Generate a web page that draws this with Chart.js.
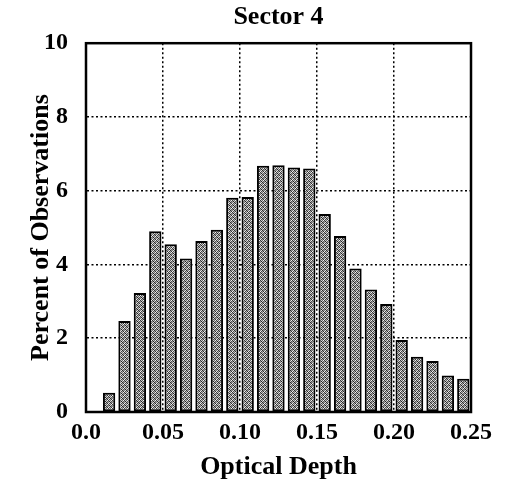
<!DOCTYPE html>
<html>
<head>
<meta charset="utf-8">
<script src="https://cdn.jsdelivr.net/npm/chart.js@4/dist/chart.umd.min.js"></script>
<style>
  html, body { margin: 0; padding: 0; background: #fff; }
  #wrap { width: 511px; height: 486px; }
</style>
</head>
<body>
<div id="wrap"><canvas id="sector-plot"></canvas></div>
<script>
// bin centres (optical depth) and percent of observations in each bin
const binCenters = [0.015, 0.025, 0.035, 0.045, 0.055, 0.065, 0.075, 0.085,
  0.095, 0.105, 0.115, 0.125, 0.135, 0.145, 0.155, 0.165, 0.175, 0.185,
  0.195, 0.205, 0.215, 0.225, 0.235, 0.245];
const percents = [0.52, 2.47, 3.23, 4.9, 4.55, 4.16, 4.64, 4.94,
  5.81, 5.83, 6.68, 6.69, 6.63, 6.6, 5.37, 4.77, 3.89, 3.32,
  2.93, 1.95, 1.5, 1.38, 0.99, 0.9];
const xTickLabels = ['0.0', '0.05', '0.10', '0.15', '0.20', '0.25'];
const yTicks = [0, 2, 4, 6, 8, 10];

const serif = '"Liberation Serif", "Times New Roman", serif';

// speckled grey fill, like the halftone of the print
function speckle() {
  const c = document.createElement('canvas');
  c.width = 4; c.height = 4;
  const g = c.getContext('2d');
  const shades = [
    '#3a3a3a', '#c8c8c8', '#6a6a6a', '#f0f0f0',
    '#a0a0a0', '#202020', '#d0d0d0', '#5a5a5a',
    '#7a7a7a', '#e0e0e0', '#2a2a2a', '#989898',
    '#f0f0f0', '#4a4a4a', '#b0b0b0', '#303030'
  ];
  shades.forEach((s, i) => {
    g.fillStyle = s;
    g.fillRect(i % 4, Math.floor(i / 4), 1, 1);
  });
  return g.createPattern(c, 'repeat');
}

// box round the plot area
const frame = {
  id: 'frame',
  afterDatasetsDraw(chart) {
    const a = chart.chartArea;
    const ctx = chart.ctx;
    ctx.save();
    ctx.strokeStyle = '#000';
    ctx.lineWidth = 2.5;
    ctx.strokeRect(a.left, a.top, a.right - a.left, a.bottom - a.top);
    ctx.restore();
  }
};

new Chart(document.getElementById('sector-plot'), {
  type: 'bar',
  data: {
    datasets: [{
      label: 'Sector 4',
      data: binCenters.map((x, i) => ({ x: x, y: percents[i] })),
      backgroundColor: speckle(),
      borderColor: '#000',
      borderWidth: 2,
      borderSkipped: false,
      categoryPercentage: 1,
      barPercentage: 0.8
    }]
  },
  options: {
    responsive: true,
    maintainAspectRatio: false,
    animation: false,
    layout: { padding: { left: 0, right: 40, top: 0, bottom: 0 } },
    plugins: {
      legend: { display: false },
      tooltip: { enabled: false },
      title: {
        display: true,
        text: 'Sector 4',
        fullSize: false,
        color: '#000',
        font: { family: serif, size: 26, weight: 'bold' },
        padding: { top: 2, bottom: 10 }
      }
    },
    scales: {
      x: {
        type: 'linear',
        offset: false,
        min: 0,
        max: 0.25,
        afterBuildTicks: axis => {
          axis.ticks = xTickLabels.map(t => ({ value: parseFloat(t) }));
        },
        ticks: {
          color: '#000',
          padding: 6,
          maxRotation: 0,
          font: { family: serif, size: 24, weight: 'bold' },
          callback: (v, i) => xTickLabels[i]
        },
        grid: { offset: false, color: '#000', lineWidth: 1.5, drawTicks: false },
        border: { display: true, color: '#000', width: 2, dash: [2, 2.5] },
        title: {
          display: true,
          text: 'Optical Depth',
          color: '#000',
          font: { family: serif, size: 26, weight: 'bold' },
          padding: { top: -1, bottom: 3 }
        }
      },
      y: {
        min: 0,
        max: 10,
        afterBuildTicks: axis => {
          axis.ticks = yTicks.map(v => ({ value: v }));
        },
        ticks: {
          color: '#000',
          padding: 18,
          font: { family: serif, size: 24, weight: 'bold' }
        },
        grid: { color: '#000', lineWidth: 1.5, drawTicks: false },
        border: { display: true, color: '#000', width: 2, dash: [2, 2.5] },
        title: {
          display: true,
          text: 'Percent of Observations',
          color: '#000',
          font: { family: serif, size: 26, weight: 'bold', lineHeight: 0.5 },
          padding: { top: 34.5, bottom: -21.5 }
        }
      }
    }
  },
  plugins: [frame]
});
</script>
</body>
</html>
